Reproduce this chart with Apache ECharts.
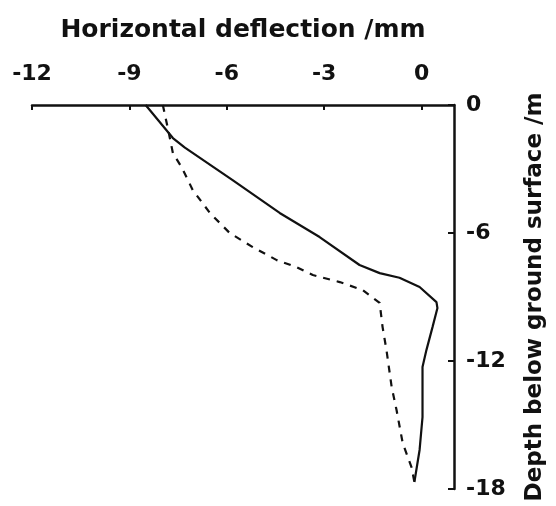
<!DOCTYPE html>
<html>
<head>
<meta charset="utf-8">
<script src="https://cdn.jsdelivr.net/npm/echarts@6/dist/echarts.min.js"></script>
<style>
html,body{margin:0;padding:0;background:#fff;}
#chart{width:556px;height:506px;}
</style>
</head>
<body>
<div id="chart"></div>
<script>
// Horizontal deflection (mm) vs depth (m)
var xTicks = [-12, -9, -6, -3, 0];
var yTicks = [0, -6, -12, -18];

var solidDeflection = [-8.5, -7.66, -7.29, -5.82, -4.37, -3.14, -1.91, -1.29, -0.68, -0.06, 0.46, 0.49, 0.34, 0.15, 0.03, 0.03, -0.06, -0.22];
var solidDepth      = [0, -1.55, -2.0, -3.52, -5.06, -6.19, -7.5, -7.88, -8.1, -8.53, -9.24, -9.52, -10.4, -11.49, -12.28, -14.63, -16.17, -17.67];

var dashedDeflection = [-7.97, -7.8, -7.66, -7.38, -7.05, -6.52, -5.91, -5.2, -4.46, -3.85, -3.35, -2.52, -1.82, -1.29, -1.2, -1.08, -0.92, -0.77, -0.58, -0.31, -0.22];
var dashedDepth      = [0, -1.2, -2.25, -2.95, -3.98, -5.06, -6.0, -6.66, -7.27, -7.6, -7.97, -8.3, -8.67, -9.28, -10.41, -11.49, -13.22, -14.3, -15.85, -16.97, -17.67];

function pairs(xs, ys) { return xs.map(function (x, i) { return [x, ys[i]]; }); }

var FONT = 'DejaVu Sans';
var chart = echarts.init(document.getElementById('chart'), null, {renderer: 'canvas'});
chart.setOption({
  backgroundColor: '#fff',
  animation: false,
  grid: {left: 32, right: 102, top: 105, bottom: 17, containLabel: false, outerBoundsMode: 'none'},
  xAxis: {
    type: 'value', position: 'top', min: -12, max: 1,
    name: 'Horizontal deflection /mm', nameLocation: 'middle', nameGap: 62,
    nameTextStyle: {fontFamily: FONT, fontWeight: 'bold', fontSize: 25, color: '#111'},
    axisLine: {onZero: false, lineStyle: {color: '#111', width: 2.5}},
    axisTick: {inside: true, length: 5, customValues: xTicks, lineStyle: {color: '#111', width: 2}},
    axisLabel: {customValues: xTicks, margin: 20, fontFamily: FONT, fontWeight: 'bold', fontSize: 22, color: '#111'},
    splitLine: {show: false}
  },
  yAxis: {
    type: 'value', position: 'right', min: -18, max: 0,
    name: 'Depth below ground surface /m', nameLocation: 'middle', nameGap: 70,
    nameTextStyle: {fontFamily: FONT, fontWeight: 'bold', fontSize: 23, color: '#111'},
    axisLine: {onZero: false, lineStyle: {color: '#111', width: 2.5}},
    axisTick: {inside: true, length: 6, customValues: yTicks, lineStyle: {color: '#111', width: 2}},
    axisLabel: {customValues: yTicks, margin: 12, fontFamily: FONT, fontWeight: 'bold', fontSize: 22, color: '#111'},
    splitLine: {show: false}
  },
  series: [
    {
      type: 'line', data: pairs(solidDeflection, solidDepth), symbol: 'none', smooth: false,
      lineStyle: {color: '#111', width: 2.2, type: 'solid'}
    },
    {
      type: 'line', data: pairs(dashedDeflection, dashedDepth), symbol: 'none', smooth: false,
      lineStyle: {color: '#111', width: 2.2, type: [7, 7]}
    }
  ]
});
</script>
</body>
</html>
